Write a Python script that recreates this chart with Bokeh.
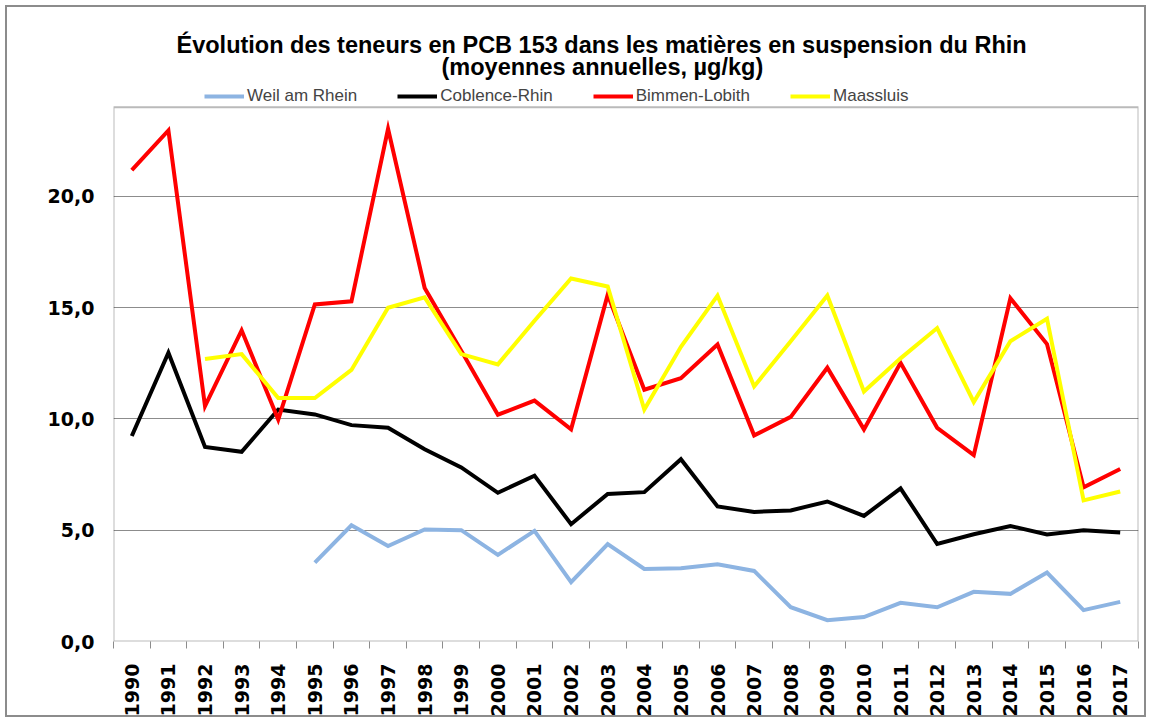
import math
from bokeh.plotting import figure
from bokeh.models import Range1d, FixedTicker, Legend, LegendItem, Title, BoxAnnotation
from bokeh.embed import file_html
from bokeh.resources import INLINE

# ---------------- data ----------------
years = [1990, 1991, 1992, 1993, 1994, 1995, 1996, 1997, 1998, 1999,
         2000, 2001, 2002, 2003, 2004, 2005, 2006, 2007, 2008, 2009,
         2010, 2011, 2012, 2013, 2014, 2015, 2016, 2017]

weil_am_rhein = [None, None, None, None, None, 3.54, 5.22, 4.29, 5.03, 5.00,
                 3.89, 4.97, 2.67, 4.38, 3.26, 3.29, 3.47, 3.17, 1.54, 0.96,
                 1.10, 1.74, 1.54, 2.23, 2.14, 3.10, 1.41, 1.78]
coblence_rhin = [9.23, 12.97, 8.74, 8.52, 10.42, 10.20, 9.72, 9.60, 8.64, 7.82,
                 6.68, 7.45, 5.27, 6.63, 6.71, 8.19, 6.07, 5.82, 5.89, 6.29,
                 5.64, 6.88, 4.38, 4.82, 5.19, 4.81, 5.00, 4.90]
bimmen_lobith = [21.18, 22.96, 10.57, 13.98, 9.97, 15.14, 15.28, 23.03, 15.88, 13.06,
                 10.19, 10.82, 9.53, 15.58, 11.31, 11.83, 13.34, 9.26, 10.09, 12.30,
                 9.53, 12.52, 9.60, 8.37, 15.42, 13.36, 6.93, 7.75]
maassluis = [None, None, 12.69, 12.91, 10.94, 10.94, 12.20, 14.99, 15.46, 12.91,
             12.45, 14.41, 16.31, 15.95, 10.42, 13.24, 15.54, 11.46, 13.49, 15.54,
             11.23, 12.72, 14.08, 10.76, 13.49, 14.50, 6.34, 6.74]

series_names = ["Weil am Rhein", "Coblence-Rhin", "Bimmen-Lobith", "Maassluis"]
series_values = [weil_am_rhein, coblence_rhin, bimmen_lobith, maassluis]
series_colors = ["#8DB4E2", "#000000", "#FF0000", "#FFFF00"]

y_min, y_max = 0, 24          # value axis of the plot area
y_ticks = [0, 5, 10, 15, 20]
y_tick_labels = ["0,0", "5,0", "10,0", "15,0", "20,0"]

title_line1 = "Évolution des teneurs en PCB 153 dans les matières en suspension du Rhin"
title_line2 = "(moyennes annuelles, µg/kg)"

# ---------------- figure ----------------
idx = list(range(len(years)))
x_start, x_end = -0.5, len(years) - 0.5

PLOT_H = 540                   # height of the boxed plot area (px)
LEGEND_BAND = 23               # band above the box holding the legend (px)
y_top = y_max * (PLOT_H + LEGEND_BAND) / PLOT_H

p = figure(width=1141, height=712,
           x_range=Range1d(x_start, x_end), y_range=Range1d(y_min, y_top),
           output_backend="svg", toolbar_location=None,
           min_border_left=106, min_border_right=10, min_border_top=77,
           min_border_bottom=72)
p.styles = {"border": "2px solid #8c8c8c", "margin": "5px 0 0 5px"}
p.background_fill_color = "white"
p.border_fill_color = "white"
p.outline_line_color = None

def clean(vals):
    return [float("nan") if v is None else v for v in vals]

renderers = []
for name, vals, col in zip(series_names, series_values, series_colors):
    r = p.line(idx, clean(vals), line_color=col, line_width=4, line_join="miter")
    renderers.append(r)

# border of the plot area, following the axis limits
p.add_layout(BoxAnnotation(left=x_start, right=x_end, bottom=y_min, top=y_max,
                           fill_color=None, line_color="#1a1a1a", line_width=2))

# axes
p.xaxis.ticker = FixedTicker(ticks=idx, minor_ticks=[i - 0.5 for i in range(len(years) + 1)])
p.xaxis.major_label_overrides = {i: str(y) for i, y in zip(idx, years)}
p.xaxis.major_label_orientation = math.pi / 2
p.xaxis.major_tick_out = 0
p.xaxis.major_tick_in = 0
p.xaxis.minor_tick_out = 7
p.xaxis.minor_tick_in = 0
p.xaxis.minor_tick_line_color = "#8c8c8c"
p.xaxis.axis_line_color = None
p.xaxis.major_label_standoff = 15
p.xaxis.major_label_text_font = "DejaVu Sans"
p.xaxis.major_label_text_font_style = "bold"
p.xaxis.major_label_text_font_size = "19px"
p.xaxis.major_label_text_color = "black"

p.yaxis.ticker = FixedTicker(ticks=y_ticks)
p.yaxis.major_label_overrides = {t: s for t, s in zip(y_ticks, y_tick_labels)}
p.yaxis.major_tick_out = 0
p.yaxis.major_tick_in = 0
p.yaxis.minor_tick_out = 0
p.yaxis.minor_tick_in = 0
p.yaxis.axis_line_color = None
p.yaxis.major_label_standoff = 19
p.yaxis.major_label_text_font = "DejaVu Sans"
p.yaxis.major_label_text_font_style = "bold"
p.yaxis.major_label_text_font_size = "19px"
p.yaxis.major_label_text_color = "black"

p.xgrid.visible = False
p.ygrid.grid_line_color = "#8c8c8c"
p.ygrid.grid_line_width = 1

# legend in the band just above the plot area box
items = [LegendItem(label=n, renderers=[r]) for n, r in zip(series_names, renderers)]
legend = Legend(items=items, orientation="horizontal", location=(91, PLOT_H - 5),
                border_line_color=None, background_fill_alpha=0,
                label_text_font="Liberation Sans", label_text_font_size="17px",
                glyph_width=40, glyph_height=18, label_standoff=3, spacing=40,
                padding=0, margin=0, label_height=18)
p.add_layout(legend, "center")

t2 = Title(text=title_line2, align="left", offset=328,
           text_font="Liberation Sans", text_font_style="bold", text_font_size="23.5px",
           text_color="black", standoff=9)
t1 = Title(text=title_line1, align="left", offset=63,
           text_font="Liberation Sans", text_font_style="bold", text_font_size="23.5px",
           text_color="black", standoff=-20)
p.add_layout(t2, "above")
p.add_layout(t1, "above")

open("out.html", "w").write(file_html(p, INLINE))
